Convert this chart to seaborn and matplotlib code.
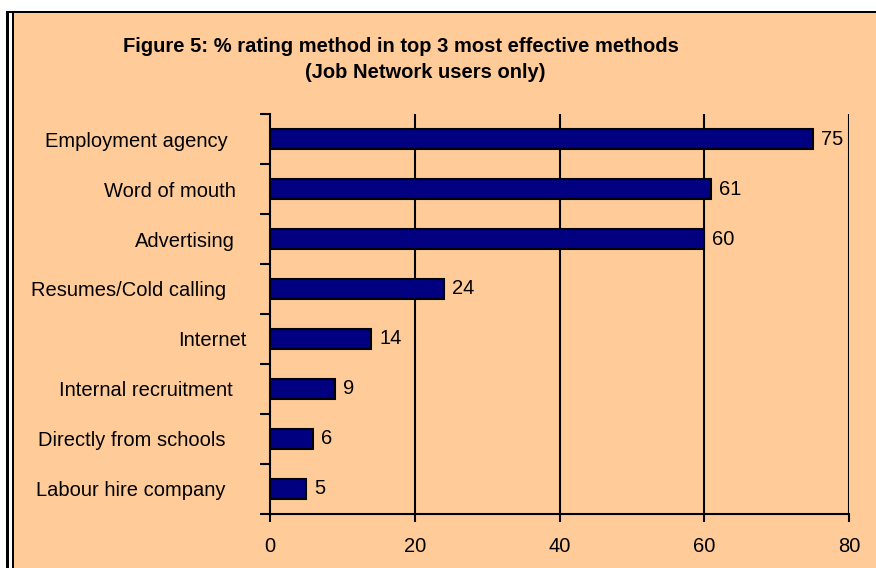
import matplotlib
matplotlib.use("Agg")
import matplotlib.pyplot as plt
from matplotlib.patches import Rectangle
from matplotlib.transforms import ScaledTranslation
import seaborn as sns
import pandas as pd

methods = [
    "Employment agency",
    "Word of mouth",
    "Advertising",
    "Resumes/Cold calling",
    "Internet",
    "Internal recruitment",
    "Directly from schools",
    "Labour hire company",
]
percent = [75, 61, 60, 24, 14, 9, 6, 5]
x_ticks = [0, 20, 40, 60, 80]

title_line1 = "Figure 5: % rating method in top 3 most effective methods"
title_line2 = "(Job Network users only)"

df = pd.DataFrame({"method": methods, "percent": percent})

sns.set_theme(style="white")
plt.rcParams["font.family"] = ["Liberation Sans", "DejaVu Sans"]

PEACH = "#FFCC99"
NAVY = "#000080"

W, H = 876, 568
fig = plt.figure(figsize=(W / 100, H / 100), dpi=100, facecolor=PEACH)

# white outer margin and double frame line
def px_rect(x0, y0, x1, y1, color):
    fig.add_artist(Rectangle((x0 / W, 1 - y1 / H), (x1 - x0) / W, (y1 - y0) / H,
                             transform=fig.transFigure, facecolor=color,
                             edgecolor="none", zorder=0))

px_rect(0, 0, W, 11, "white")
px_rect(0, 0, 14, H, "white")
px_rect(6, 11, W, 13, "black")
px_rect(6, 11, 8.5, H, "black")
px_rect(12, 13, 14, H, "black")

ax = fig.add_axes([270 / W, 1 - 514 / H, (849 - 270) / W, (514 - 114) / H])
ax.set_facecolor(PEACH)

sns.barplot(data=df, x="percent", y="method", orient="h", color=NAVY,
            width=0.4, edgecolor="black", linewidth=1.5, saturation=1,
            ax=ax, zorder=3)

ax.set_xlim(0, 80)
ax.set_ylim(len(methods) - 0.5, -0.5)
ax.set_xticks(x_ticks)
ax.set_xticklabels([str(v) for v in x_ticks], fontsize=14.5, color="black")
ax.tick_params(axis="x", which="major", direction="out", length=6, width=1.5,
               color="black", pad=10.5, bottom=True)

# category labels without ticks; ticks placed at category boundaries
ax.set_yticks(range(len(methods)))
ax.set_yticklabels(methods, fontsize=14.5, color="black")
ax.tick_params(axis="y", which="major", length=0, pad=0)
ax.set_yticks([i - 0.5 for i in range(len(methods) + 1)], minor=True)
ax.tick_params(axis="y", which="minor", direction="out", length=7, width=1.5,
               color="black", left=True)

# gap between each category label and the axis, in pixels
label_gaps = [42, 34, 35, 44, 24, 37, 44, 44]
for lbl, gap in zip(ax.get_yticklabels(), label_gaps):
    lbl.set_transform(lbl.get_transform()
                      + ScaledTranslation(-gap / 100, 0, fig.dpi_scale_trans))

ax.set_xlabel("")
ax.set_ylabel("")

for v in x_ticks[1:]:
    ax.axvline(v, color="black", linewidth=1.5, zorder=1)

for side in ["top", "right"]:
    ax.spines[side].set_visible(False)
for side in ["left", "bottom"]:
    ax.spines[side].set_visible(True)
    ax.spines[side].set_color("black")
    ax.spines[side].set_linewidth(1.5)
    ax.spines[side].set_zorder(5)

for i, v in enumerate(percent):
    ax.text(v + 1.1, i, str(v), va="center", ha="left", fontsize=14.5,
            color="black", zorder=4)

fig.text(401 / W, 1 - 46 / H, title_line1, ha="center", va="center",
         fontsize=14.5, fontweight="bold", color="black")
fig.text(425 / W, 1 - 73 / H, title_line2, ha="center", va="center",
         fontsize=14.5, fontweight="bold", color="black")

fig.savefig("out.png", dpi=100, facecolor=PEACH)
